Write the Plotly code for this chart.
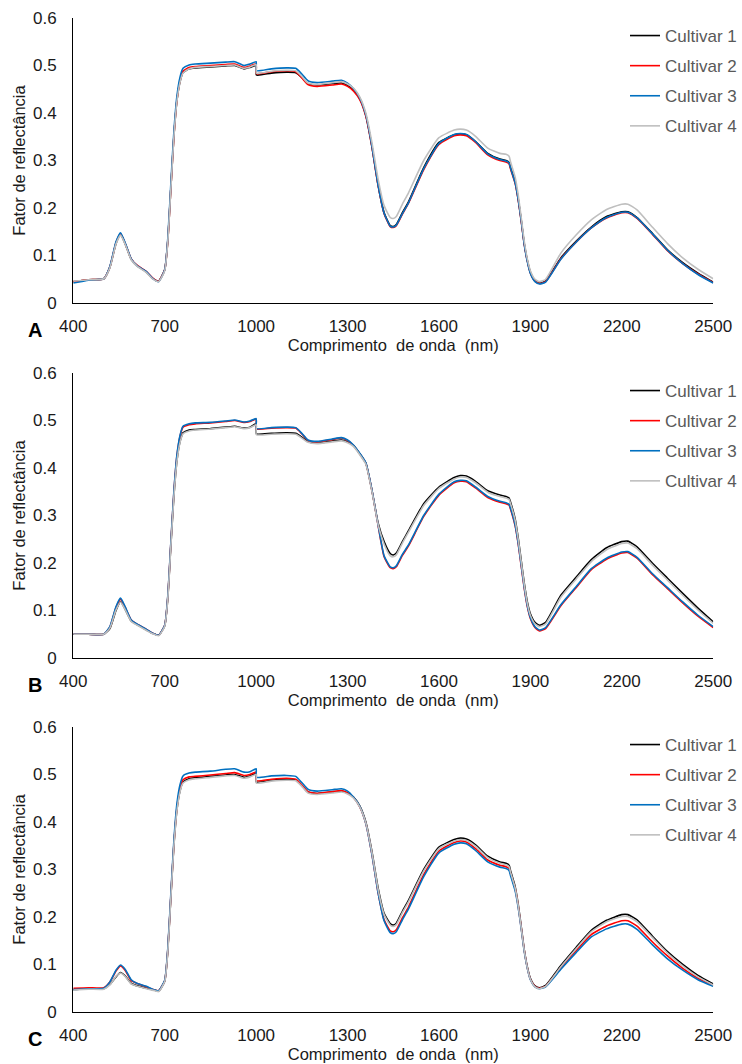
import plotly.graph_objects as go

# Comprimentos de onda (nm)
wl = [400, 450, 500, 520, 540, 555, 570, 590, 610, 640,
      660, 680, 700, 710, 720, 730, 740, 750, 760, 780,
      800, 850, 900, 930, 960, 980, 1000, 1001, 1050, 1100,
      1130, 1150, 1170, 1200, 1250, 1280, 1300, 1320, 1340, 1360,
      1380, 1400, 1420, 1440, 1450, 1460, 1480, 1500, 1550, 1600,
      1650, 1670, 1690, 1720, 1760, 1800, 1820, 1830, 1835, 1850,
      1860, 1870, 1880, 1890, 1900, 1915, 1930, 1950, 2000, 2050,
      2100, 2150, 2200, 2220, 2250, 2300, 2350, 2400, 2450, 2500]

cultivares = ["Cultivar 1", "Cultivar 2", "Cultivar 3", "Cultivar 4"]

# Painel A
a_c1 = [0.045, 0.049, 0.051, 0.075, 0.125, 0.145, 0.125, 0.092, 0.078, 0.065,
        0.052, 0.046, 0.070, 0.130, 0.240, 0.350, 0.425, 0.465, 0.485, 0.493,
        0.495, 0.497, 0.499, 0.500, 0.493, 0.496, 0.500, 0.480, 0.484, 0.486,
        0.485, 0.475, 0.462, 0.459, 0.462, 0.463, 0.458, 0.448, 0.430, 0.395,
        0.330, 0.250, 0.190, 0.163, 0.161, 0.165, 0.190, 0.213, 0.285, 0.338,
        0.354, 0.356, 0.354, 0.340, 0.315, 0.303, 0.300, 0.296, 0.285, 0.255,
        0.220, 0.175, 0.125, 0.090, 0.065, 0.047, 0.042, 0.046, 0.095, 0.130,
        0.160, 0.182, 0.192, 0.192, 0.180, 0.147, 0.112, 0.085, 0.063, 0.044]
a_c2 = [0.045, 0.049, 0.051, 0.076, 0.127, 0.146, 0.126, 0.093, 0.079, 0.066,
        0.053, 0.046, 0.070, 0.130, 0.240, 0.350, 0.427, 0.468, 0.488, 0.496,
        0.498, 0.500, 0.502, 0.503, 0.496, 0.499, 0.503, 0.483, 0.487, 0.489,
        0.487, 0.474, 0.460, 0.456, 0.459, 0.461, 0.456, 0.446, 0.428, 0.393,
        0.328, 0.248, 0.188, 0.161, 0.159, 0.163, 0.187, 0.210, 0.281, 0.334,
        0.352, 0.354, 0.352, 0.338, 0.312, 0.300, 0.297, 0.293, 0.282, 0.252,
        0.217, 0.172, 0.123, 0.088, 0.063, 0.046, 0.041, 0.045, 0.093, 0.128,
        0.158, 0.179, 0.190, 0.190, 0.178, 0.145, 0.110, 0.083, 0.061, 0.043]
a_c3 = [0.042, 0.048, 0.051, 0.077, 0.129, 0.148, 0.127, 0.093, 0.078, 0.066,
        0.052, 0.045, 0.070, 0.135, 0.250, 0.360, 0.435, 0.475, 0.494, 0.501,
        0.503, 0.505, 0.507, 0.508, 0.500, 0.503, 0.508, 0.489, 0.493, 0.495,
        0.494, 0.482, 0.468, 0.464, 0.467, 0.469, 0.463, 0.451, 0.432, 0.396,
        0.330, 0.249, 0.189, 0.162, 0.160, 0.164, 0.188, 0.211, 0.283, 0.336,
        0.355, 0.357, 0.355, 0.340, 0.314, 0.302, 0.299, 0.295, 0.284, 0.253,
        0.218, 0.173, 0.123, 0.087, 0.062, 0.045, 0.040, 0.044, 0.092, 0.128,
        0.158, 0.180, 0.191, 0.191, 0.179, 0.146, 0.111, 0.083, 0.060, 0.042]
a_c4 = [0.046, 0.049, 0.051, 0.074, 0.124, 0.143, 0.124, 0.091, 0.077, 0.064,
        0.051, 0.045, 0.068, 0.128, 0.238, 0.348, 0.424, 0.464, 0.484, 0.493,
        0.496, 0.498, 0.500, 0.501, 0.494, 0.497, 0.502, 0.484, 0.488, 0.490,
        0.489, 0.477, 0.463, 0.460, 0.464, 0.466, 0.461, 0.452, 0.434, 0.400,
        0.338, 0.262, 0.205, 0.180, 0.178, 0.182, 0.208, 0.232, 0.300, 0.348,
        0.364, 0.366, 0.364, 0.351, 0.326, 0.315, 0.313, 0.309, 0.297, 0.265,
        0.228, 0.180, 0.130, 0.093, 0.068, 0.050, 0.045, 0.050, 0.105, 0.143,
        0.175, 0.197, 0.208, 0.208, 0.196, 0.160, 0.125, 0.095, 0.071, 0.051]

# Painel B
b_c1 = [0.050, 0.050, 0.050, 0.062, 0.100, 0.119, 0.103, 0.078, 0.070, 0.059,
        0.052, 0.048, 0.068, 0.125, 0.235, 0.340, 0.415, 0.455, 0.474, 0.480,
        0.481, 0.483, 0.486, 0.488, 0.484, 0.486, 0.493, 0.472, 0.473, 0.474,
        0.473, 0.465, 0.456, 0.452, 0.457, 0.459, 0.455, 0.447, 0.430, 0.410,
        0.353, 0.285, 0.245, 0.220, 0.217, 0.221, 0.245, 0.268, 0.325, 0.360,
        0.380, 0.384, 0.383, 0.372, 0.352, 0.343, 0.340, 0.337, 0.328, 0.293,
        0.253, 0.205, 0.157, 0.118, 0.093, 0.075, 0.069, 0.075, 0.132, 0.170,
        0.207, 0.232, 0.245, 0.246, 0.234, 0.200, 0.168, 0.136, 0.105, 0.076]
b_c2 = [0.050, 0.050, 0.050, 0.065, 0.106, 0.124, 0.107, 0.080, 0.071, 0.060,
        0.052, 0.048, 0.069, 0.128, 0.240, 0.348, 0.425, 0.466, 0.486, 0.491,
        0.493, 0.495, 0.498, 0.500, 0.496, 0.498, 0.503, 0.482, 0.484, 0.485,
        0.484, 0.472, 0.458, 0.455, 0.460, 0.463, 0.458, 0.447, 0.430, 0.410,
        0.353, 0.280, 0.213, 0.190, 0.188, 0.192, 0.216, 0.236, 0.298, 0.343,
        0.369, 0.372, 0.371, 0.358, 0.338, 0.328, 0.325, 0.322, 0.313, 0.278,
        0.240, 0.193, 0.146, 0.108, 0.083, 0.064, 0.057, 0.062, 0.110, 0.148,
        0.186, 0.208, 0.221, 0.222, 0.210, 0.176, 0.146, 0.116, 0.088, 0.064]
b_c3 = [0.050, 0.050, 0.050, 0.066, 0.108, 0.126, 0.108, 0.080, 0.071, 0.060,
        0.052, 0.048, 0.069, 0.130, 0.242, 0.350, 0.427, 0.468, 0.488, 0.493,
        0.495, 0.496, 0.499, 0.501, 0.497, 0.499, 0.504, 0.483, 0.485, 0.486,
        0.485, 0.473, 0.459, 0.456, 0.461, 0.464, 0.459, 0.448, 0.431, 0.411,
        0.354, 0.281, 0.215, 0.192, 0.190, 0.194, 0.218, 0.238, 0.300, 0.345,
        0.371, 0.374, 0.373, 0.360, 0.340, 0.330, 0.327, 0.324, 0.315, 0.280,
        0.242, 0.195, 0.148, 0.110, 0.085, 0.066, 0.059, 0.064, 0.112, 0.150,
        0.188, 0.210, 0.223, 0.224, 0.212, 0.178, 0.148, 0.118, 0.090, 0.066]
b_c4 = [0.050, 0.050, 0.050, 0.063, 0.101, 0.118, 0.102, 0.077, 0.069, 0.058,
        0.051, 0.047, 0.067, 0.124, 0.233, 0.338, 0.413, 0.453, 0.472, 0.478,
        0.480, 0.482, 0.485, 0.487, 0.483, 0.485, 0.491, 0.470, 0.471, 0.472,
        0.471, 0.463, 0.454, 0.451, 0.455, 0.457, 0.453, 0.445, 0.428, 0.408,
        0.351, 0.282, 0.240, 0.215, 0.213, 0.217, 0.242, 0.265, 0.321, 0.357,
        0.377, 0.381, 0.380, 0.369, 0.349, 0.340, 0.337, 0.334, 0.325, 0.290,
        0.250, 0.202, 0.154, 0.115, 0.090, 0.072, 0.066, 0.072, 0.128, 0.166,
        0.203, 0.228, 0.241, 0.242, 0.230, 0.196, 0.164, 0.132, 0.101, 0.073]

# Painel C
c_c1 = [0.047, 0.049, 0.049, 0.058, 0.074, 0.083, 0.076, 0.060, 0.055, 0.050,
        0.047, 0.044, 0.065, 0.128, 0.240, 0.350, 0.425, 0.465, 0.484, 0.491,
        0.493, 0.496, 0.499, 0.500, 0.494, 0.497, 0.502, 0.484, 0.488, 0.490,
        0.489, 0.477, 0.463, 0.460, 0.463, 0.465, 0.461, 0.452, 0.434, 0.400,
        0.338, 0.262, 0.208, 0.186, 0.183, 0.187, 0.212, 0.235, 0.300, 0.347,
        0.363, 0.366, 0.364, 0.352, 0.328, 0.316, 0.313, 0.309, 0.297, 0.264,
        0.227, 0.180, 0.131, 0.095, 0.071, 0.055, 0.051, 0.056, 0.098, 0.136,
        0.172, 0.193, 0.205, 0.205, 0.194, 0.160, 0.127, 0.100, 0.077, 0.059]
c_c2 = [0.050, 0.051, 0.051, 0.063, 0.086, 0.097, 0.088, 0.066, 0.060, 0.053,
        0.048, 0.045, 0.066, 0.130, 0.243, 0.353, 0.430, 0.470, 0.489, 0.495,
        0.496, 0.499, 0.502, 0.504, 0.498, 0.500, 0.505, 0.487, 0.490, 0.492,
        0.490, 0.478, 0.464, 0.460, 0.464, 0.466, 0.461, 0.451, 0.432, 0.397,
        0.332, 0.252, 0.194, 0.171, 0.169, 0.173, 0.198, 0.221, 0.289, 0.339,
        0.357, 0.360, 0.358, 0.344, 0.320, 0.309, 0.306, 0.302, 0.291, 0.259,
        0.223, 0.177, 0.129, 0.093, 0.069, 0.054, 0.050, 0.054, 0.093, 0.129,
        0.163, 0.181, 0.192, 0.192, 0.181, 0.148, 0.118, 0.092, 0.071, 0.056]
c_c3 = [0.047, 0.049, 0.050, 0.063, 0.088, 0.099, 0.090, 0.068, 0.060, 0.054,
        0.048, 0.045, 0.067, 0.133, 0.248, 0.360, 0.438, 0.478, 0.497, 0.503,
        0.505, 0.507, 0.511, 0.512, 0.505, 0.506, 0.512, 0.494, 0.497, 0.498,
        0.496, 0.483, 0.469, 0.465, 0.468, 0.470, 0.465, 0.452, 0.433, 0.397,
        0.332, 0.252, 0.192, 0.167, 0.165, 0.169, 0.194, 0.217, 0.285, 0.335,
        0.353, 0.356, 0.354, 0.340, 0.316, 0.305, 0.302, 0.298, 0.287, 0.255,
        0.220, 0.175, 0.127, 0.092, 0.068, 0.053, 0.049, 0.053, 0.090, 0.125,
        0.158, 0.175, 0.185, 0.185, 0.174, 0.142, 0.112, 0.088, 0.068, 0.054]
c_c4 = [0.046, 0.048, 0.048, 0.057, 0.075, 0.082, 0.075, 0.059, 0.054, 0.049,
        0.046, 0.043, 0.064, 0.126, 0.238, 0.348, 0.423, 0.463, 0.482, 0.489,
        0.491, 0.494, 0.497, 0.498, 0.492, 0.495, 0.500, 0.482, 0.486, 0.488,
        0.487, 0.475, 0.461, 0.458, 0.461, 0.463, 0.459, 0.450, 0.432, 0.398,
        0.336, 0.259, 0.205, 0.183, 0.180, 0.184, 0.209, 0.232, 0.297, 0.344,
        0.360, 0.363, 0.361, 0.349, 0.325, 0.313, 0.310, 0.306, 0.294, 0.261,
        0.224, 0.177, 0.129, 0.093, 0.069, 0.053, 0.049, 0.054, 0.095, 0.133,
        0.169, 0.190, 0.201, 0.201, 0.190, 0.157, 0.124, 0.097, 0.074, 0.057]

paineis = [("A", [a_c1, a_c2, a_c3, a_c4]),
           ("B", [b_c1, b_c2, b_c3, b_c4]),
           ("C", [c_c1, c_c2, c_c3, c_c4])]

cores = ["#000000", "#FF0000", "#0070C0", "#BFBFBF"]

W, H = 742, 1064
# limites das áreas de plotagem em pixels (topo, base)
y_px = [(18, 303), (373, 658), (727, 1012)]
x_px = (74, 720)

fig = go.Figure()
fonte = "Liberation Sans, Arial, sans-serif"

for i, (letra, series) in enumerate(paineis):
    n = "" if i == 0 else str(i + 1)
    for j, vals in enumerate(series):
        fig.add_trace(go.Scatter(
            x=wl, y=vals, mode="lines", name=cultivares[j],
            line=dict(color=cores[j], width=1.6, shape="spline", smoothing=0.5),
            xaxis="x" + n, yaxis="y" + n, legend="legend" + n,
            legendgroup=letra + str(j),
        ))
    top, bot = y_px[i]
    fig.update_layout(**{
        "xaxis" + n: dict(
            domain=[x_px[0] / W, x_px[1] / W], anchor="y" + n,
            range=[400, 2500], tickvals=[400, 700, 1000, 1300, 1600, 1900, 2200, 2500],
            showline=True, linecolor="#000000", linewidth=1.3, showgrid=False,
            zeroline=False, ticks="", ticklabelstandoff=7,
            tickfont=dict(size=17, color="#1a1a1a"),
            title=dict(text="Comprimento  de onda  (nm)", standoff=0,
                       font=dict(size=16.5, color="#1a1a1a")),
            automargin=False,
        ),
        "yaxis" + n: dict(
            domain=[1 - bot / H, 1 - top / H], anchor="x" + n,
            range=[0, 0.6], tickvals=[0, 0.1, 0.2, 0.3, 0.4, 0.5, 0.6],
            ticktext=["0", "0.1", "0.2", "0.3", "0.4", "0.5", "0.6"],
            showline=True, linecolor="#000000", linewidth=1.3, showgrid=False,
            zeroline=False, ticks="", ticklabelstandoff=12,
            tickfont=dict(size=17, color="#1a1a1a"),
            title=dict(text="Fator de reflectância", standoff=3,
                       font=dict(size=16.5, color="#1a1a1a")),
            automargin=False,
        ),
        "legend" + n: dict(
            x=631 / W, y=1 - top / H, xanchor="left", yanchor="top",
            bgcolor="rgba(0,0,0,0)", font=dict(size=17, color="#595959"),
            tracegroupgap=5, itemwidth=30,
        ),
    })
    fig.add_annotation(x=35 / W, y=1 - (bot + 27) / H, xref="paper", yref="paper",
                       xanchor="center", yanchor="middle",
                       text="<b>" + letra + "</b>", showarrow=False,
                       font=dict(size=20, color="#000000"))

fig.update_layout(
    width=W, height=H, margin=dict(l=0, r=0, t=0, b=0),
    plot_bgcolor="white", paper_bgcolor="white",
    font=dict(family=fonte, color="#1a1a1a"),
    showlegend=True,
)

fig.write_html("out.html", config={"displayModeBar": False},
               post_script="document.body.style.margin='0';")
